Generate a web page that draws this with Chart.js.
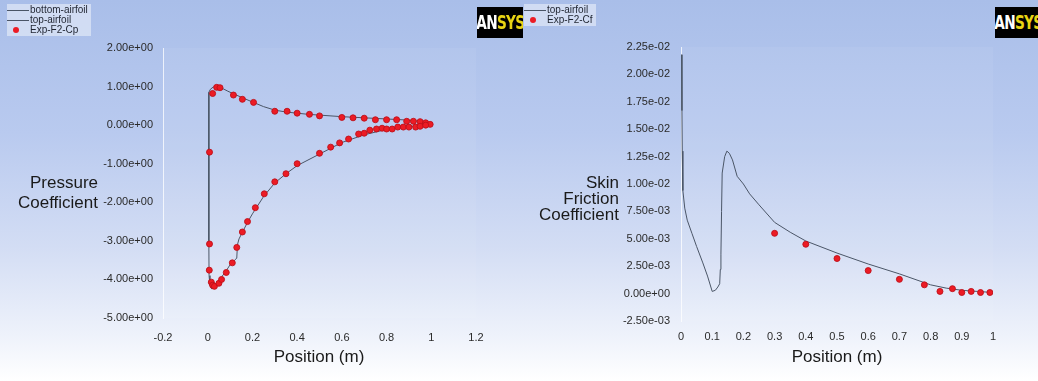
<!DOCTYPE html>
<html>
<head>
<meta charset="utf-8">
<script src="https://cdn.jsdelivr.net/npm/chart.js@4.4.0/dist/chart.umd.min.js"></script>
<style>
  html, body { margin: 0; padding: 0; }
  body {
    width: 1038px; height: 381px; overflow: hidden; position: relative;
    background: linear-gradient(to bottom, #a9bee9 0%, #b9caef 35%, #d3ddf4 65%, #eef2fb 88%, #ffffff 100%);
    font-family: "Liberation Sans", Arial, sans-serif; color: #1a1a1a;
  }
  .panel { position: absolute; top: 0; width: 519px; height: 381px; }
  .panel canvas { position: absolute; left: 0; top: 0; }
  .ytitle { position: absolute; font-size: 17px; text-align: right; white-space: nowrap; }
  .xtitle { position: absolute; font-size: 17px; line-height: 20px; text-align: center; white-space: nowrap; }
  .legend {
    position: absolute; background: rgba(222, 229, 246, 0.75);
    font-size: 10px; line-height: 10px; padding: 1px 3px 1px 0; color: #1f2430;
  }
  .legend .row { position: relative; height: 10px; padding-left: 23px; white-space: nowrap; }
  .legend .line { position: absolute; left: 0; top: 5px; width: 22px; border-top: 1px solid #4a5566; }
  .legend .dot { position: absolute; left: 6px; top: 2px; width: 6px; height: 6px; border-radius: 50%; background: #ec1b24; }
  .logo {
    position: absolute; background: #000; width: 46px; height: 31px;
    overflow: hidden; text-align: center;
  }
  .logo b {
    display: inline-block; transform: scaleX(0.72); transform-origin: 50% 50%;
    font-family: "DejaVu Sans", sans-serif; font-weight: bold; font-size: 19px;
    line-height: 31px; letter-spacing: -1px; color: #fff; margin-left: -12px; margin-right: -12px;
  }
  .logo b span { color: #e8d413; }
</style>
</head>
<body>

<div class="panel" style="left:0"><canvas id="cpChart" width="519" height="381"></canvas></div>
<div class="panel" style="left:519px"><canvas id="cfChart" width="519" height="381"></canvas></div>

<div class="ytitle" style="left:0; width:98px; top:173px; line-height:20px;">Pressure<br>Coefficient</div>
<div class="ytitle" style="left:500px; width:119px; top:175px; line-height:16px;">Skin<br>Friction<br>Coefficient</div>
<div class="xtitle" style="left:219px; width:200px; top:347px;">Position (m)</div>
<div class="xtitle" style="left:737px; width:200px; top:347px;">Position (m)</div>

<div class="legend" style="left:7px; top:4px;">
  <div class="row"><span class="line"></span>bottom-airfoil</div>
  <div class="row"><span class="line"></span>top-airfoil</div>
  <div class="row"><span class="dot"></span>Exp-F2-Cp</div>
</div>
<div class="legend" style="left:524px; top:4px;">
  <div class="row"><span class="line"></span>top-airfoil</div>
  <div class="row"><span class="dot"></span>Exp-F2-Cf</div>
</div>

<div class="logo" style="left:477px; top:7px;"><b>AN<span>SYS</span></b></div>
<div class="logo" style="left:995px; top:7px;"><b>AN<span>SYS</span></b></div>

<script>
// ---- pressure coefficient (left) ----
const cpTicksX = [-0.2, 0, 0.2, 0.4, 0.6, 0.8, 1, 1.2];
const cpTicksY = [2, 1, 0, -1, -2, -3, -4, -5];

const bottomAirfoilX = [0.005, 0.012, 0.025, 0.04, 0.06, 0.09, 0.12, 0.16, 0.2, 0.25, 0.3, 0.35, 0.4, 0.45, 0.5, 0.6, 0.7, 0.8, 0.9, 0.95, 1.0];
const bottomAirfoilCp = [0.85, 0.93, 0.99, 1.0, 0.97, 0.88, 0.8, 0.7, 0.6, 0.48, 0.39, 0.34, 0.31, 0.28, 0.26, 0.22, 0.19, 0.16, 0.13, 0.1, 0.03];

const topAirfoilX = [0.005, 0.005, 0.006, 0.01, 0.018, 0.03, 0.045, 0.06, 0.08, 0.1, 0.12, 0.13, 0.133, 0.14, 0.16, 0.18, 0.2, 0.25, 0.3, 0.35, 0.4, 0.5, 0.6, 0.7, 0.8, 0.9, 0.95, 1.0];
const topAirfoilCp = [0.85, -3.0, -3.9, -4.15, -4.25, -4.15, -4.05, -3.95, -3.8, -3.62, -3.5, -3.45, -3.1, -2.95, -2.72, -2.5, -2.3, -1.85, -1.5, -1.26, -1.05, -0.75, -0.45, -0.25, -0.11, -0.04, -0.01, 0.03];

const expCpUpperX = [0.022, 0.04, 0.055, 0.115, 0.155, 0.205, 0.3, 0.355, 0.4, 0.455, 0.5, 0.6, 0.65, 0.7, 0.75, 0.8, 0.845, 0.89, 0.92, 0.95, 0.975, 0.995];
const expCpUpper = [0.82, 0.98, 0.97, 0.78, 0.67, 0.59, 0.36, 0.36, 0.31, 0.28, 0.24, 0.2, 0.19, 0.18, 0.14, 0.14, 0.14, 0.1, 0.1, 0.09, 0.06, 0.02];
const expCpLowerX = [0.008, 0.008, 0.007, 0.016, 0.022, 0.03, 0.05, 0.062, 0.083, 0.11, 0.13, 0.155, 0.178, 0.213, 0.253, 0.3, 0.35, 0.4, 0.5, 0.55, 0.59, 0.63, 0.675, 0.7, 0.725, 0.755, 0.78, 0.8, 0.825, 0.85, 0.875, 0.9, 0.93, 0.95, 0.975];
const expCpLower = [-0.7, -3.08, -3.76, -4.07, -4.15, -4.18, -4.1, -4.0, -3.82, -3.57, -3.17, -2.77, -2.5, -2.14, -1.78, -1.47, -1.26, -1.0, -0.73, -0.57, -0.46, -0.36, -0.23, -0.21, -0.13, -0.1, -0.08, -0.1, -0.1, -0.05, -0.05, -0.05, -0.05, -0.03, 0.0];

// ---- skin friction coefficient (right) ----
const cfTicksX = [0, 0.1, 0.2, 0.3, 0.4, 0.5, 0.6, 0.7, 0.8, 0.9, 1];
const cfTicksY = [0.0225, 0.02, 0.0175, 0.015, 0.0125, 0.01, 0.0075, 0.005, 0.0025, 0, -0.0025];

const cfTopX = [0.002, 0.003, 0.004, 0.006, 0.012, 0.02, 0.035, 0.05, 0.07, 0.085, 0.1, 0.11, 0.118, 0.124, 0.126, 0.128, 0.13, 0.132, 0.14, 0.147, 0.155, 0.165, 0.18, 0.2, 0.22, 0.25, 0.3, 0.35, 0.4, 0.5, 0.6, 0.7, 0.8, 0.85, 0.9, 0.95, 1.0];
const cfTop = [0.0218, 0.0167, 0.013, 0.0094, 0.0078, 0.0067, 0.0055, 0.0043, 0.0028, 0.0016, 0.0002, 0.0003, 0.0006, 0.0009, 0.0022, 0.0036, 0.0075, 0.011, 0.0125, 0.013, 0.0128, 0.0122, 0.0107, 0.01, 0.0091, 0.0081, 0.0065, 0.0056, 0.0048, 0.0037, 0.0027, 0.0018, 0.0008, 0.0005, 0.0003, 0.0002, 0.0001];

const expCfX = [0.3, 0.4, 0.5, 0.6, 0.7, 0.78, 0.83, 0.87, 0.9, 0.93, 0.96, 0.99];
const expCf = [0.0055, 0.0045, 0.0032, 0.0021, 0.0013, 0.0008, 0.0002, 0.00045, 0.0001, 0.0002, 0.0001, 0.0001];

const LINE_COLOR = '#4a5566';
const DOT_COLOR = '#ec1b24';
const TICK_FONT = { family: '"Liberation Sans", Arial, sans-serif', size: 11 };

function pairs(xs, ys) {
    return xs.map((x, i) => ({ x: x, y: ys[i] }));
}

function sci(v) {
    const parts = Number(v).toExponential(2).split('e');
    const exp = parts[1];
    return parts[0] + 'e' + exp[0] + exp.slice(1).padStart(2, '0');
}

function plain(v) {
    return String(Math.round(v * 10) / 10);
}

const plotShade = {
    id: 'plotShade',
    beforeDatasetsDraw(chart) {
        const a = chart.chartArea;
        const ctx = chart.ctx;
        ctx.save();
        ctx.fillStyle = 'rgba(255, 255, 255, 0.06)';
        ctx.fillRect(a.left, a.top, a.right - a.left, a.bottom - a.top);
        ctx.restore();
    }
};

function lineSet(data) {
    return {
        data: data,
        showLine: true,
        borderColor: LINE_COLOR,
        borderWidth: 1,
        pointRadius: 0,
        tension: 0,
        order: 2
    };
}

function dotSet(data) {
    return {
        data: data,
        showLine: false,
        pointRadius: 3,
        pointBackgroundColor: DOT_COLOR,
        pointBorderColor: 'rgba(190, 15, 25, 0.9)',
        pointBorderWidth: 1,
        order: 1
    };
}

function makeChart(canvasId, cfg) {
    return new Chart(document.getElementById(canvasId), {
        type: 'scatter',
        data: { datasets: cfg.datasets },
        plugins: [plotShade],
        options: {
            responsive: false,
            animation: false,
            layout: { padding: { left: 0, top: cfg.top, right: cfg.right, bottom: 0 } },
            plugins: { legend: { display: false }, tooltip: { enabled: false } },
            scales: {
                x: {
                    type: 'linear',
                    min: cfg.xTicks[0],
                    max: cfg.xTicks[cfg.xTicks.length - 1],
                    afterFit: (s) => { s.height = cfg.xHeight; },
                    afterBuildTicks: (s) => { s.ticks = cfg.xTicks.map((v) => ({ value: v })); },
                    grid: { display: false, drawTicks: false },
                    border: { display: false },
                    ticks: {
                        padding: cfg.xPad,
                        maxRotation: 0,
                        autoSkip: false,
                        color: '#2a2a2a',
                        font: TICK_FONT,
                        callback: (v) => plain(v)
                    }
                },
                y: {
                    type: 'linear',
                    min: Math.min(...cfg.yTicks),
                    max: Math.max(...cfg.yTicks),
                    afterFit: (s) => { s.width = cfg.yWidth; },
                    afterBuildTicks: (s) => { s.ticks = cfg.yTicks.map((v) => ({ value: v })); },
                    grid: { display: false, drawTicks: false },
                    border: { display: true, color: 'rgba(255, 255, 255, 0.75)', width: 1 },
                    ticks: {
                        padding: cfg.yPad,
                        autoSkip: false,
                        color: '#2a2a2a',
                        font: TICK_FONT,
                        callback: (v) => sci(v)
                    }
                }
            }
        }
    });
}

makeChart('cpChart', {
    datasets: [
        lineSet(pairs(bottomAirfoilX, bottomAirfoilCp)),
        lineSet(pairs(topAirfoilX, topAirfoilCp)),
        dotSet(pairs(expCpUpperX, expCpUpper).concat(pairs(expCpLowerX, expCpLower)))
    ],
    xTicks: cpTicksX,
    yTicks: cpTicksY,
    top: 48,
    right: 43,
    xHeight: 63,
    yWidth: 163,
    xPad: 13,
    yPad: 10
});

makeChart('cfChart', {
    datasets: [
        lineSet(pairs(cfTopX, cfTop)),
        dotSet(pairs(expCfX, expCf))
    ],
    xTicks: cfTicksX,
    yTicks: cfTicksY,
    top: 47,
    right: 45,
    xHeight: 60,
    yWidth: 162,
    xPad: 9,
    yPad: 11
});
</script>
</body>
</html>
